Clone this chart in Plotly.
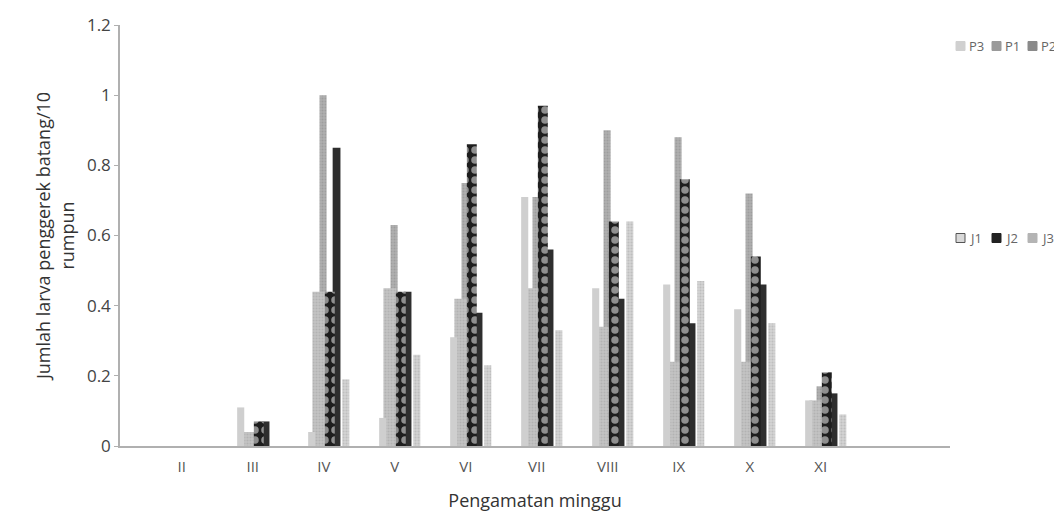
import plotly.graph_objects as go

weeks = ["II", "III", "IV", "V", "VI", "VII", "VIII", "IX", "X", "XI"]

P3 = [0, 0.11, 0.04, 0.08, 0.31, 0.71, 0.45, 0.46, 0.39, 0.13]
P1 = [0, 0.04, 1.00, 0.63, 0.75, 0.71, 0.90, 0.88, 0.72, 0.17]
P2 = [0, 0.07, 0.85, 0.44, 0.38, 0.56, 0.42, 0.35, 0.46, 0.15]
J1 = [0, 0.04, 0.44, 0.45, 0.42, 0.45, 0.34, 0.24, 0.24, 0.13]
J2 = [0, 0.07, 0.44, 0.44, 0.86, 0.97, 0.64, 0.76, 0.54, 0.21]
J3 = [0, 0, 0.19, 0.26, 0.23, 0.33, 0.64, 0.47, 0.35, 0.09]

yticks = [0, 0.2, 0.4, 0.6, 0.8, 1.0, 1.2]
ytick_text = ["0", "0.2", "0.4", "0.6", "0.8", "1", "1.2"]

legend_P = ["P3", "P1", "P2"]
legend_J = ["J1", "J2", "J3"]

FONT = "Open Sans"

COL = {"P3": "#cfcfcf", "P1": "#a4a4a4", "P2": "#2e2e2e",
       "J1": "#b8b8b8", "J2": "#1e1e1e", "J3": "#c6c6c6"}
SWATCH = {"P3": ("#d0d0d0", "#d0d0d0"), "P1": ("#9a9a9a", "#9a9a9a"), "P2": ("#8a8a8a", "#8a8a8a"),
          "J1": ("#d8d8d8", "#555555"), "J2": ("#222222", "#222222"), "J3": ("#b4b4b4", "#b4b4b4")}

fig = go.Figure()

def add(name, vals, offset, width, pattern=None):
    marker = dict(color=COL[name], line=dict(width=0))
    if pattern:
        marker["pattern"] = pattern
    fig.add_trace(go.Bar(name=name, x=weeks, y=vals, offset=offset, width=width,
                         marker=marker, showlegend=False))

# draw order: back to front
add("P1", P1, -0.06, 0.10,
    pattern=dict(shape=".", fgcolor="#8a8a8a", bgcolor="#b0b0b0", size=3, solidity=0.4))
add("J1", J1, -0.16, 0.18,
    pattern=dict(shape=".", fgcolor="#a0a0a0", bgcolor="#c4c4c4", size=3, solidity=0.4))
add("P3", P3, -0.22, 0.10)
add("P2", P2, 0.125, 0.11)
add("J2", J2, 0.015, 0.14,
    pattern=dict(shape=".", fgcolor="#ffffff", bgcolor="#1e1e1e", size=10, solidity=0.45))
add("J3", J3, 0.26, 0.10,
    pattern=dict(shape=".", fgcolor="#a8a8a8", bgcolor="#d4d4d4", size=3, solidity=0.4))

# plot area in screen px: x 120..950, y 25..446
L, R, T, B = 120, 950, 25, 446
def px_x(p):
    return (p - L) / (R - L)
def px_y(p):
    return (B - p) / (B - T)

shapes, annots = [], []
for names, yc in ((legend_P, 46), (legend_J, 238)):
    for i, nm in enumerate(names):
        x0 = 956 + i * 36
        fill, edge = SWATCH[nm]
        shapes.append(dict(type="rect", xref="paper", yref="paper",
                           x0=px_x(x0), x1=px_x(x0 + 9), y0=px_y(yc + 4.5), y1=px_y(yc - 4.5),
                           fillcolor=fill, line=dict(color=edge, width=1)))
        annots.append(dict(text=nm, xref="paper", yref="paper", x=px_x(x0 + 11), y=px_y(yc),
                           xanchor="left", yanchor="middle", showarrow=False,
                           font=dict(size=13, color="#666666", family=FONT)))

fig.update_layout(
    width=1054, height=515,
    barmode="overlay",
    paper_bgcolor="white", plot_bgcolor="white",
    margin=dict(l=112, r=112, t=17, b=77, autoexpand=False),
    font=dict(family=FONT, color="#444444"),
    showlegend=False,
    shapes=shapes, annotations=annots,
    xaxis=dict(
        type="category", range=[-0.87, 10.82],
        showline=True, linecolor="#b0b0b0", linewidth=1.5,
        showgrid=False, zeroline=False, ticks="",
        ticklabelstandoff=6,
        tickfont=dict(size=15, color="#555555"),
        title=dict(text="Pengamatan minggu", font=dict(size=18, color="#333333"), standoff=20),
    ),
    yaxis=dict(
        range=[0, 1.2], tickvals=yticks, ticktext=ytick_text,
        showline=True, linecolor="#b0b0b0", linewidth=1.5,
        showgrid=False, zeroline=False, ticks="outside", ticklen=4, tickcolor="#b0b0b0",
        tickfont=dict(size=17, color="#444444"),
        title=dict(text="Jumlah larva penggerek batang/10<br>rumpun",
                   font=dict(size=18, color="#333333"), standoff=8),
    ),
)

fig.write_html("out.html")
